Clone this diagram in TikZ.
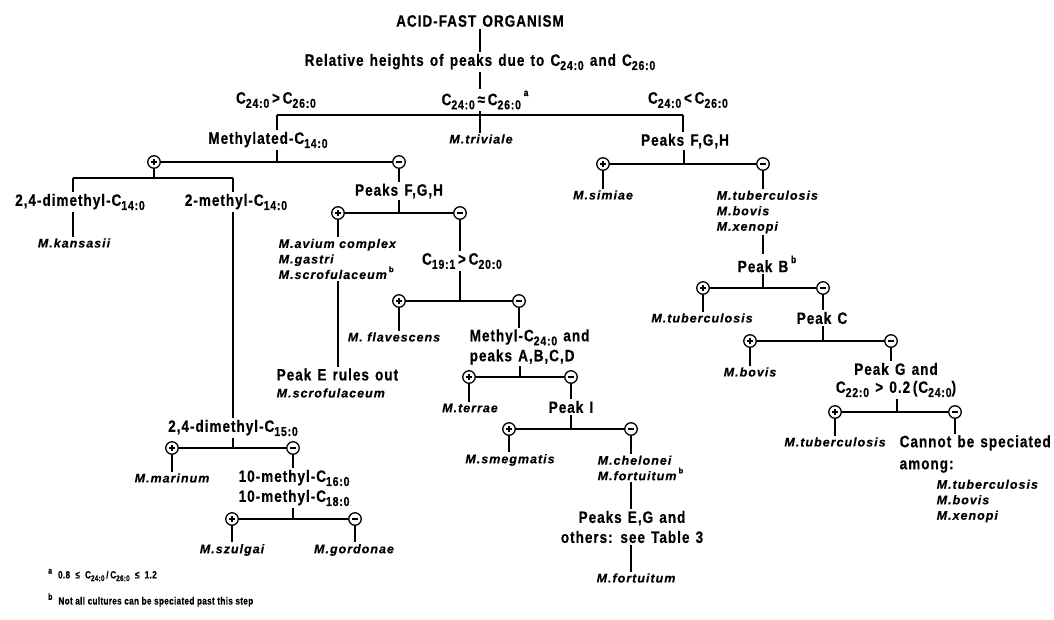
\documentclass[tikz,border=0pt]{standalone}
\usepackage{fontspec}
\setmainfont{Liberation Sans}
\newfontfamily\lbfnt{Liberation Sans}[FakeStretch=0.82, LetterSpace=6, WordSpace=1.3, FakeBold=0.5]
\newfontfamily\spfnt{Liberation Sans}[LetterSpace=8, FakeBold=0.3]
\newfontfamily\fnfnt{Liberation Sans}[FakeStretch=0.78, LetterSpace=3, FakeBold=0.3]
\newcommand{\sbs}[1]{\raisebox{-0.25em}{\scalebox{0.78}{#1}}}
\newcommand{\sps}[1]{\raisebox{0.55em}{\scalebox{0.62}{\upshape\bfseries #1}}}
\newcommand{\fsps}[1]{\raisebox{0.45em}{\scalebox{0.85}{#1}}}
\newcommand{\spsty}{\spfnt\bfseries\itshape\fontsize{12.5}{15.5}\selectfont}
\tikzset{
  lb/.style={font=\lbfnt\bfseries\fontsize{16.5}{20}\selectfont, inner sep=1.5pt},
  sp/.style={font=\spsty, inner sep=1.5pt},
  fn/.style={font=\fnfnt\bfseries\fontsize{10.5}{12}\selectfont, inner sep=0pt},
  ln/.style={line width=1.5pt},
  circ/.style={circle, draw, line width=1.3pt, minimum size=12.5pt, inner sep=0pt, fill=white},
  pc/.style={circ, path picture={\draw[line width=1.4pt]
     ([xshift=-3pt]path picture bounding box.center) -- ([xshift=3pt]path picture bounding box.center)
     ([yshift=-3pt]path picture bounding box.center) -- ([yshift=3pt]path picture bounding box.center);}},
  mc/.style={circ, path picture={\draw[line width=1.4pt]
     ([xshift=-3pt]path picture bounding box.center) -- ([xshift=3pt]path picture bounding box.center);}},
}
\begin{document}
\begin{tikzpicture}[x=1pt,y=-1pt]
\fill[white] (0,0) rectangle (1054,619);
\useasboundingbox (0,0) rectangle (1054,619);

% top level
\node[lb] (org) at (480,21) {ACID-FAST ORGANISM};
\node[lb] (rel) at (480,62) {Relative heights of peaks due to C\sbs{24:0} and C\sbs{26:0}};
\node[lb] (gt) at (276,100) {C\sbs{24:0}\,>\,C\sbs{26:0}};
\node[lb] (eq) at (485,100) {C\sbs{24:0}\,≈\,C\sbs{26:0}\,\sps{a}};
\node[lb] (lt) at (688,100) {C\sbs{24:0}\,<\,C\sbs{26:0}};
\draw[ln] (org) -- (org |- rel.north);
\draw[ln] (rel) -- (rel |- eq.north);
\coordinate (hL) at (277,115);
\coordinate (hM) at (480,115);
\coordinate (hR) at (683,115);
\draw[ln] (hL) -- (hR);
\node[lb] (meth) at (268,140) {Methylated-C\sbs{14:0}};
\node[sp] (triv) at (481,139) {M.triviale};
\node[lb] (pfR) at (685,141) {Peaks F,G,H};
\draw[ln] (hL) -- (hL |- meth.north);
\draw[ln] (hM |- eq.south) -- (hM |- triv.north);
\draw[ln] (hR) -- (hR |- pfR.north);

% Methylated-C14:0
\coordinate (j1) at (277,162);
\node[pc] (p1) at (154,162) {};
\node[mc] (m1) at (399,162) {};
\draw[ln] (j1 |- meth.south) -- (j1);
\draw[ln] (p1) -- (m1);

% plus branch: 2,4-dimethyl / 2-methyl
\coordinate (k1) at (154,178);
\coordinate (kL) at (73,178);
\coordinate (kR) at (233,178);
\draw[ln] (p1) -- (k1);
\draw[ln] (kL) -- (kR);
\node[lb] (dm14) at (80,202) {2,4-dimethyl-C\sbs{14:0}};
\node[lb] (me14) at (236,202) {2-methyl-C\sbs{14:0}};
\draw[ln] (kL) -- (kL |- dm14.north);
\draw[ln] (kR) -- (kR |- me14.north);
\node[sp] (kans) at (74,243) {M.kansasii};
\draw[ln] (kL |- dm14.south) -- (kL |- kans.north);
\node[lb] (dm15) at (233,428) {2,4-dimethyl-C\sbs{15:0}};
\draw[ln] (kR |- me14.south) -- (kR |- dm15.north);
\coordinate (j2) at (233,448);
\node[pc] (p2) at (172,448) {};
\node[mc] (m2) at (293,448) {};
\draw[ln] (j2 |- dm15.south) -- (j2);
\draw[ln] (p2) -- (m2);
\node[sp] (mari) at (172,478) {M.marinum};
\draw[ln] (p2) -- (p2 |- mari.north);
\node[lb, align=left, anchor=west] (me16) at (237,488) {10-methyl-C\sbs{16:0}\\10-methyl-C\sbs{18:0}};
\draw[ln] (m2) -- (m2 |- me16.north);
\coordinate (j3) at (293,519);
\node[pc] (p3) at (232,519) {};
\node[mc] (m3) at (355,519) {};
\draw[ln] (j3 |- me16.south) -- (j3);
\draw[ln] (p3) -- (m3);
\node[sp] (szul) at (232,550) {M.szulgai};
\node[sp] (gord) at (354,550) {M.gordonae};
\draw[ln] (p3) -- (p3 |- szul.north);
\draw[ln] (m3) -- (m3 |- gord.north);

% minus branch: Peaks F,G,H
\node[lb] (pfL) at (399,191) {Peaks F,G,H};
\draw[ln] (m1) -- (m1 |- pfL.north);
\coordinate (j4) at (399,213);
\node[pc] (p4) at (338,213) {};
\node[mc] (m4) at (460,213) {};
\draw[ln] (j4 |- pfL.south) -- (j4);
\draw[ln] (p4) -- (m4);
\node[sp, align=left, anchor=west] (avium) at (277,259) {M.avium complex\\M.gastri\\M.scrofulaceum\,\sps{b}};
\draw[ln] (p4) -- (p4 |- avium.north);
\node[lb, align=left, anchor=west] (peakE) at (275,383) {Peak E rules out\\[-3pt]{\spsty M.scrofulaceum}};
\draw[ln] (p4 |- avium.south) -- (p4 |- peakE.north);
\node[lb] (c19) at (462,261) {C\sbs{19:1}\,>\,C\sbs{20:0}};
\draw[ln] (m4) -- (m4 |- c19.north);
\coordinate (j5) at (460,301);
\node[pc] (p5) at (399,301) {};
\node[mc] (m5) at (519,301) {};
\draw[ln] (j5 |- c19.south) -- (j5);
\draw[ln] (p5) -- (m5);
\node[sp] (flav) at (394,337) {M. flavescens};
\draw[ln] (p5) -- (p5 |- flav.north);
\node[lb, align=left, anchor=west] (me24) at (468,347) {Methyl-C\sbs{24:0} and\\peaks A,B,C,D};
\draw[ln] (m5) -- (m5 |- me24.north);
\coordinate (j6) at (520,377);
\node[pc] (p6) at (469,377) {};
\node[mc] (m6) at (571,377) {};
\draw[ln] (j6 |- me24.south) -- (j6);
\draw[ln] (p6) -- (m6);
\node[sp] (terr) at (470,408) {M.terrae};
\draw[ln] (p6) -- (p6 |- terr.north);
\node[lb] (pkI) at (571,407) {Peak I};
\draw[ln] (m6) -- (m6 |- pkI.north);
\coordinate (j7) at (571,429);
\node[pc] (p7) at (509,429) {};
\node[mc] (m7) at (631,429) {};
\draw[ln] (j7 |- pkI.south) -- (j7);
\draw[ln] (p7) -- (m7);
\node[sp] (smeg) at (510,460) {M.smegmatis};
\draw[ln] (p7) -- (p7 |- smeg.north);
\node[sp, align=left, anchor=west] (chel) at (596,468) {M.chelonei\\M.fortuitum\,\sps{b}};
\draw[ln] (m7) -- (m7 |- chel.north);
\node[lb, align=center] (pkEG) at (632,527) {Peaks E,G and\\others: see Table 3};
\draw[ln] (m7 |- chel.south) -- (m7 |- pkEG.north);
\node[sp] (fort) at (636,578) {M.fortuitum};
\draw[ln] (m7 |- pkEG.south) -- (m7 |- fort.north);

% right branch: Peaks F,G,H
\coordinate (j8) at (684,164);
\node[pc] (p8) at (603,164) {};
\node[mc] (m8) at (763,164) {};
\draw[ln] (j8 |- pfR.south) -- (j8);
\draw[ln] (p8) -- (m8);
\node[sp] (simi) at (603,195) {M.simiae};
\draw[ln] (p8) -- (p8 |- simi.north);
\node[sp, align=left, anchor=west] (tbx) at (715,212) {M.tuberculosis\\M.bovis\\M.xenopi};
\draw[ln] (m8) -- (m8 |- tbx.north);
\node[lb] (pkB) at (767,264) {Peak B\,\sps{b}};
\draw[ln] (m8 |- tbx.south) -- (m8 |- pkB.north);
\coordinate (j9) at (763,288);
\node[pc] (p9) at (703,288) {};
\node[mc] (m9) at (823,288) {};
\draw[ln] (j9 |- pkB.south) -- (j9);
\draw[ln] (p9) -- (m9);
\node[sp] (tub1) at (702,318) {M.tuberculosis};
\draw[ln] (p9) -- (p9 |- tub1.north);
\node[lb] (pkC) at (822,318) {Peak C};
\draw[ln] (m9) -- (m9 |- pkC.north);
\coordinate (j10) at (823,341);
\node[pc] (p10) at (750,341) {};
\node[mc] (m10) at (891,341) {};
\draw[ln] (j10 |- pkC.south) -- (j10);
\draw[ln] (p10) -- (m10);
\node[sp] (bov) at (750,372) {M.bovis};
\draw[ln] (p10) -- (p10 |- bov.north);
\node[lb, align=center] (pkG) at (896,380) {Peak G and\\[-2pt]C\sbs{22:0} > 0.2\,(C\sbs{24:0})};
\draw[ln] (m10) -- (m10 |- pkG.north);
\coordinate (j11) at (897,412);
\node[pc] (p11) at (835,412) {};
\node[mc] (m11) at (955,412) {};
\draw[ln] (j11 |- pkG.south) -- (j11);
\draw[ln] (p11) -- (m11);
\node[sp] (tub2) at (835,442) {M.tuberculosis};
\draw[ln] (p11) -- (p11 |- tub2.north);
\node[lb, align=left, anchor=west] (cann) at (898,454) {Cannot be speciated\\[2pt]among:};
\draw[ln] (m11) -- (m11 |- cann.north);
\node[sp, align=left, anchor=west] (lst) at (935,501) {M.tuberculosis\\M.bovis\\M.xenopi};

% footnotes
\node[fn, anchor=west] (fa) at (48,575) {\fsps{a}\hspace{6pt}0.8\enspace≤\enspace C\sbs{24:0}\,/\,C\sbs{26:0}\enspace≤\enspace1.2};
\node[fn, anchor=west] (fb) at (48,600) {\fsps{b}\hspace{6pt}Not all cultures can be speciated past this step};
\end{tikzpicture}
\end{document}
